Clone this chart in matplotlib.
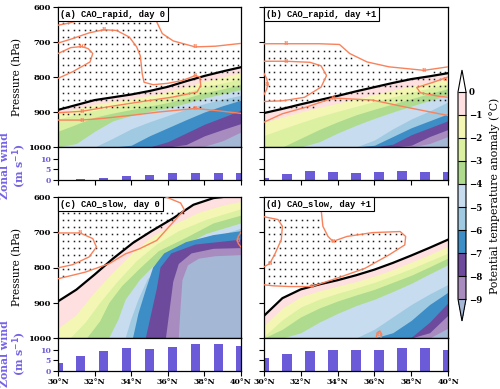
import numpy as np
import matplotlib as mpl
import matplotlib.pyplot as plt
from matplotlib.path import Path
from matplotlib.colors import ListedColormap, BoundaryNorm

plt.rcParams['font.family'] = ['DejaVu Serif']
plt.rcParams['font.weight'] = 'bold'

# colours of the bands below each level 0, -1, ..., -9 (last = below -9)
band_colors = ['#fde0df', '#f4f7b4', '#dcf0a2', '#aedb8d', '#c8dcf0',
               '#9fcae2', '#3d8dc7', '#6e4a9c', '#a98cbf', '#a4b8d6']
orange = '#f8825c'
wind_color = '#6b5bd8'

# ---- potential temperature anomaly: pressure (hPa) of each level per latitude
lat = [30, 31, 32, 33, 34, 35, 36, 37, 38, 39, 40]

a_bounds = [
    [894, 880, 866, 858, 850, 840, 828, 812, 797, 784, 772],
    [905, 891, 878, 870, 862, 853, 842, 828, 812, 800, 788],
    [920, 907, 895, 886, 877, 868, 858, 843, 828, 817, 805],
    [955, 935, 915, 903, 893, 883, 873, 860, 845, 834, 821],
    [1000, 990, 955, 925, 910, 898, 888, 875, 860, 848, 836],
    [1000, 1000, 1000, 975, 948, 928, 910, 892, 876, 863, 852],
    [1000, 1000, 1000, 1000, 995, 968, 945, 922, 900, 882, 866],
    [1000, 1000, 1000, 1000, 1000, 1000, 985, 960, 935, 915, 895],
    [1000, 1000, 1000, 1000, 1000, 1000, 1000, 993, 968, 950, 933],
    [1000, 1000, 1000, 1000, 1000, 1000, 1000, 1000, 998, 982, 957],
]

b_bounds = [
    [903, 891, 878, 866, 854, 841, 829, 817, 806, 798, 789],
    [929, 915, 900, 887, 875, 862, 850, 838, 826, 815, 805],
    [967, 948, 930, 913, 898, 884, 870, 857, 844, 831, 819],
    [1000, 1000, 975, 950, 928, 908, 892, 877, 862, 847, 833],
    [1000, 1000, 1000, 985, 960, 938, 918, 900, 883, 867, 852],
    [1000, 1000, 1000, 1000, 1000, 1000, 980, 948, 920, 897, 871],
    [1000, 1000, 1000, 1000, 1000, 1000, 995, 970, 945, 925, 905],
    [1000, 1000, 1000, 1000, 1000, 1000, 1000, 992, 965, 945, 925],
    [1000, 1000, 1000, 1000, 1000, 1000, 1000, 1000, 995, 970, 950],
    [1000, 1000, 1000, 1000, 1000, 1000, 1000, 1000, 1000, 990, 970],
]

d_bounds = [
    [937, 887, 862, 848, 836, 822, 806, 787, 766, 744, 721],
    [965, 915, 883, 866, 853, 840, 824, 806, 785, 763, 740],
    [995, 948, 912, 890, 873, 858, 842, 823, 803, 781, 759],
    [1000, 975, 940, 915, 895, 878, 862, 842, 822, 798, 773],
    [1000, 1000, 985, 955, 930, 908, 890, 868, 845, 818, 792],
    [1000, 1000, 1000, 1000, 1000, 1000, 975, 940, 905, 875, 848],
    [1000, 1000, 1000, 1000, 1000, 1000, 1000, 985, 950, 905, 870],
    [1000, 1000, 1000, 1000, 1000, 1000, 1000, 1000, 998, 955, 900],
    [1000, 1000, 1000, 1000, 1000, 1000, 1000, 1000, 1000, 985, 935],
    [1000, 1000, 1000, 1000, 1000, 1000, 1000, 1000, 1000, 1000, 972],
]

# panel (c) is steep: each level as a (lat, p) line from the left/bottom edge
# to the top/right edge
c_lines = [
    ([30, 31, 32, 33, 34.1, 35.1, 36.3, 37.4, 38.5, 39.0],
     [896, 863, 820, 775, 730, 697, 660, 622, 603, 600]),
    ([30, 31, 32, 33, 34.1, 35.2, 36.3, 37.7, 39.0, 40],
     [975, 936, 872, 816, 759, 712, 680, 645, 625, 614]),
    ([30.7, 31.5, 32.3, 33.2, 34.3, 35.4, 36.6, 38.1, 40],
     [1000, 957, 901, 844, 782, 735, 697, 665, 635]),
    ([31.6, 32.3, 32.8, 33.5, 34.5, 35.5, 37.0, 38.5, 40],
     [1000, 953, 901, 853, 802, 754, 716, 675, 653]),
    ([32.8, 33.3, 33.7, 34.5, 35.4, 36.6, 38.1, 40],
     [1000, 948, 891, 834, 787, 745, 705, 675]),
    ([33.7, 34.0, 34.4, 34.9, 35.7, 37.0, 38.5, 40],
     [1000, 948, 891, 834, 787, 750, 715, 690]),
    ([34.1, 34.4, 34.8, 35.2, 35.8, 37.0, 38.5, 40],
     [1000, 930, 863, 800, 760, 728, 708, 697]),
    ([34.8, 35.1, 35.4, 35.6, 36.2, 37.5, 40],
     [1000, 930, 860, 800, 760, 735, 721]),
    ([35.9, 36.1, 36.3, 36.6, 37.3, 38.5, 40],
     [1000, 920, 840, 790, 760, 747, 745]),
    ([36.6, 36.7, 36.8, 37.1, 37.7, 38.6, 40],
     [1000, 912, 836, 794, 775, 768, 765]),
]

# ---- orange contours (lat, p) and their labels
a_orange = [
    ([30, 30.6, 31.2, 31.8, 32.2], [652, 646, 637, 620, 600]),
    ([30, 30.7, 31.3, 31.65, 31.9, 31.75, 30.8, 30], [733, 716, 713, 719, 733, 757, 785, 804]),
    ([30, 30.7, 31.7, 32.5, 33.2, 33.9, 34.3, 34.5, 34.6, 34.7, 35.2, 36.0, 36.8, 37.3, 37.5,
      37.75, 37.8, 37.6, 36.3, 34.5, 33, 31.3, 30],
     [703, 692, 674, 665, 667, 686, 714, 740, 790, 815, 822, 818, 810, 800, 796,
      800, 824, 843, 857, 871, 883, 898, 902]),
    ([30, 31.3, 32.5, 34.1, 35.5, 37.5, 38.5, 40], [923, 923, 918, 909, 900, 890, 895, 904]),
    ([35.2, 35.4, 35.7, 36.3, 37.5, 38.6, 40], [600, 643, 676, 697, 714, 712, 704]),
]
a_olabels = [(31.3, 714, '10'), (32.5, 665, '8'), (37.5, 796, '8'), (31.3, 898, '8'),
             (31.3, 923, '8'), (37.5, 890, '8'), (37.5, 714, '8')]

b_orange = [
    ([30, 31.2, 33, 34.1, 34.66, 35.6, 36.8, 38.7, 40], [705, 705, 705, 707, 733, 757, 771, 781, 771]),
    ([30, 31.2, 32.5, 33.1, 33.4, 33.1, 32.2, 31, 30], [755, 755, 758, 768, 796, 829, 858, 868, 870]),
    ([30, 31, 32.3, 33.75, 35.9, 37.7, 40], [929, 905, 886, 860, 866, 886, 910]),
    ([30, 30.15, 30.2, 30.15, 30], [790, 805, 820, 835, 850]),
    ([40, 39.2, 38.3, 38.5, 39.5, 40], [800, 815, 830, 845, 855, 858]),
]
b_olabels = [(31.2, 705, '8'), (38.7, 781, '8'), (31.2, 755, '8'), (33.75, 860, '8'),
             (30.15, 820, '8'), (39.8, 808, '8')]

c_orange = [
    ([30, 31.2, 31.9, 32.1, 31.7, 30.8, 30], [702, 702, 718, 742, 770, 792, 801]),
    ([30, 31.5, 32.8, 33.7, 34.45, 35.4, 36.3, 36.9, 36.7, 35.9], [832, 813, 789, 761, 747, 723, 671, 636, 617, 600]),
    ([40, 39.85, 39.8, 39.85, 40], [700, 712, 722, 732, 742]),
]
c_olabels = [(31.2, 702, '8'), (39.85, 722, '8')]

d_orange = [
    ([30, 30.76, 31.0, 30.94, 30.58, 30.31, 30], [656, 664, 683, 721, 763, 789, 798]),
    ([33.11, 33.11, 33.2, 33.48, 33.75, 34.5, 35.9, 37.4, 37.7, 37.65, 36.8, 35.5, 34.1, 32.6, 31.4, 30.5, 30],
     [600, 638, 683, 712, 726, 712, 701, 698, 712, 736, 764, 802, 828, 854, 854, 852, 849]),
    ([36.1, 36.15, 36.3, 36.4, 36.35], [1000, 985, 980, 990, 1000]),
]
d_olabels = [(30.31, 789, '8'), (33.75, 726, '8'), (32.6, 854, '8'), (36.25, 990, '8')]

# ---- stippled areas: (lat, p) outline
a_dots = [(30, 640), (35.2, 640), (35.8, 680), (36.5, 700), (38, 712), (40, 712),
          (40, 880), (38, 885), (36, 895), (34, 895), (32, 905), (30, 922)]
b_dots = [(30, 712), (34.1, 712), (34.7, 740), (35.6, 763), (36.8, 777), (38.7, 788), (40, 778),
          (40, 870), (38, 870), (36, 870), (34, 875), (32, 890), (30, 898)]
c_dots = [(30, 640), (37.3, 640), (36.5, 660), (35.5, 690), (34.5, 715), (33.5, 750),
          (32.5, 790), (31.5, 812), (30, 828)]
d_dots = [(30, 650), (33.1, 650), (33.3, 700), (33.7, 720), (34.5, 705), (37.4, 695), (37.75, 712),
          (37.6, 738), (36.8, 765), (35.5, 803), (34.1, 830), (32.6, 853), (30, 850)]

# ---- zonal wind bars
wind_lat = [30, 31.25, 32.5, 33.75, 35, 36.25, 37.5, 38.75, 40]
a_wind = [0.0, 0.3, 1.1, 2.0, 2.5, 3.1, 3.4, 3.4, 3.3]
b_wind = [0.8, 2.8, 4.1, 3.9, 3.4, 3.8, 4.2, 3.9, 3.6]
c_wind = [3.7, 7.1, 9.4, 11.0, 10.6, 11.6, 12.9, 13.0, 11.9]
d_wind = [6.0, 8.1, 9.4, 9.9, 9.8, 10.0, 11.0, 11.0, 9.8]

titles = ['(a) CAO_rapid, day 0', '(b) CAO_rapid, day +1',
          '(c) CAO_slow, day 0', '(d) CAO_slow, day +1']

dot_lat = np.arange(30.25, 40, 0.3)
dot_p = np.arange(645, 1000, 20)


def fill_lines(ax, lines):
    # colder air lies below / right of every line: close each one through the
    # lower-right corner and paint them from warm to cold
    for k, (xs, ys) in enumerate(lines):
        px, py = list(xs), list(ys)
        if py[-1] <= 600:
            px.append(40)
            py.append(600)
        px.append(40)
        py.append(1000)
        if px[0] <= 30:
            px.append(30)
            py.append(1000)
        ax.fill(px, py, color=band_colors[k], lw=0, zorder=1)
    ax.plot(lines[0][0], lines[0][1], color='k', lw=1.6, zorder=4)


def draw_field(ax, bounds, orange_lines, orange_labels, dots, title, left):
    if isinstance(bounds[0], tuple):
        fill_lines(ax, bounds)
    else:
        for k, b in enumerate(bounds):
            ax.fill_between(lat, b, 1000, color=band_colors[k], lw=0, zorder=1)
        ax.plot(lat, bounds[0], color='k', lw=1.6, zorder=4)

    gx, gy = np.meshgrid(dot_lat, dot_p)
    pts = np.column_stack([gx.ravel(), gy.ravel()])
    inside = Path(dots).contains_points(pts)
    ax.plot(pts[inside, 0], pts[inside, 1], 's', ms=1.1, mew=0, color='#202020', zorder=3)

    for xs, ys in orange_lines:
        ax.plot(xs, ys, color=orange, lw=1.0, zorder=5)
    for x, y, s in orange_labels:
        ax.text(x, y, s, color=orange, fontsize=4.5, ha='center', va='center', zorder=6)

    ax.text(0.012, 0.982, title, transform=ax.transAxes, ha='left', va='top',
            fontsize=6.3, family='Liberation Mono', fontweight='bold', zorder=10,
            bbox=dict(boxstyle='square,pad=0.3', fc='white', ec='black', lw=0.8))

    ax.set_xlim(30, 40)
    ax.set_ylim(1000, 600)
    ax.set_yticks([600, 700, 800, 900, 1000])
    ax.tick_params(axis='y', direction='out', length=3.5, width=0.8, labelsize=6, pad=1.5)
    ax.tick_params(axis='x', bottom=False, labelbottom=False)
    if left:
        ax.set_ylabel('Pressure (hPa)', fontsize=7.6, labelpad=4)
    else:
        ax.tick_params(axis='y', labelleft=False)
    for s in ax.spines.values():
        s.set_linewidth(0.9)


def draw_wind(ax, values, left, bottom):
    ax.bar(wind_lat, values, width=0.5, color=wind_color, zorder=2)
    ax.set_xlim(30, 40)
    ax.set_ylim(0, 15.7)
    ax.set_yticks([0, 5, 10])
    ax.set_xticks([30, 32, 34, 36, 38, 40])
    ax.set_xticklabels(['30°N', '32°N', '34°N', '36°N', '38°N', '40°N'])
    ax.tick_params(axis='both', direction='out', length=3.5, width=0.8, labelsize=5.6, pad=1.5)
    ax.tick_params(axis='y', labelcolor=wind_color, color='k')
    if not left:
        ax.tick_params(axis='y', labelleft=False)
    if not bottom:
        ax.tick_params(axis='x', labelbottom=False)
    for s in ax.spines.values():
        s.set_linewidth(0.9)


fig = plt.figure(figsize=(5, 3.89), dpi=100)

H = 389.0
W = 500.0


def box(x0, x1, y0, y1):
    return [x0 / W, 1 - y1 / H, (x1 - x0) / W, (y1 - y0) / H]


ax_a = fig.add_axes(box(58, 241, 7, 147))
ax_aw = fig.add_axes(box(58, 241, 147, 180))
ax_b = fig.add_axes(box(264, 448, 7, 147))
ax_bw = fig.add_axes(box(264, 448, 147, 180))
ax_c = fig.add_axes(box(58, 241, 197, 338))
ax_cw = fig.add_axes(box(58, 241, 338, 371))
ax_d = fig.add_axes(box(264, 448, 197, 338))
ax_dw = fig.add_axes(box(264, 448, 338, 371))

draw_field(ax_a, a_bounds, a_orange, a_olabels, a_dots, titles[0], True)
draw_field(ax_b, b_bounds, b_orange, b_olabels, b_dots, titles[1], False)
draw_field(ax_c, c_lines, c_orange, c_olabels, c_dots, titles[2], True)
draw_field(ax_d, d_bounds, d_orange, d_olabels, d_dots, titles[3], False)

draw_wind(ax_aw, a_wind, True, False)
draw_wind(ax_bw, b_wind, False, False)
draw_wind(ax_cw, c_wind, True, True)
draw_wind(ax_dw, d_wind, False, True)

for yc in (166, 354):
    fig.text(14 / W, 1 - yc / H, 'Zonal wind\n(m s$^{-1}$)', rotation=90, ha='center',
             va='center', multialignment='center', color='#7565e6', fontsize=7.8,
             linespacing=1.1)

# colorbar (extension triangles are drawn inside the axes)
cax = fig.add_axes(box(458, 466, 70, 321))
cmap = ListedColormap(band_colors[-2::-1])
cmap.set_over('white')
cmap.set_under(band_colors[-1])
norm = BoundaryNorm(np.arange(-9, 1), cmap.N)
cb = fig.colorbar(mpl.cm.ScalarMappable(norm=norm, cmap=cmap), cax=cax, extend='both',
                  extendfrac=0.106, drawedges=True, ticks=np.arange(-9, 1))
cb.outline.set_linewidth(0.8)
cb.dividers.set_linewidth(0.8)
cb.ax.tick_params(length=0, labelsize=6.2, pad=2)
cb.set_label('Potential temperature anomaly (°C)', fontsize=7.8, labelpad=5)

fig.savefig('out.png', dpi=100)
